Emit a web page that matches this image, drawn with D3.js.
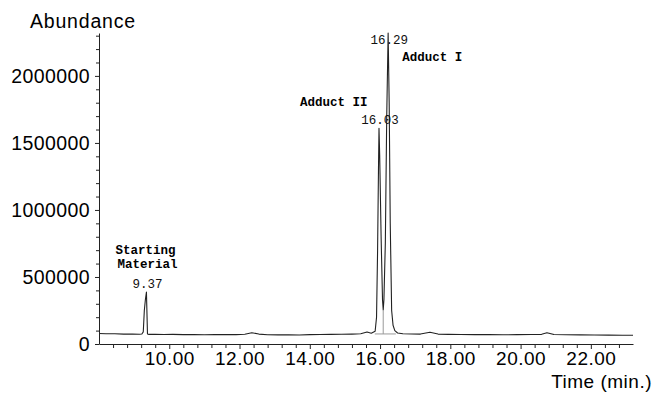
<!DOCTYPE html>
<html>
<head>
<meta charset="utf-8">
<script src="https://cdn.jsdelivr.net/npm/d3@7"></script>
<style>
  html, body { margin: 0; padding: 0; background: #fff; }
  svg { display: block; }
</style>
</head>
<body>
<svg id="chart" width="655" height="393"></svg>
<script>
// ---- data ----
const times = [8.00, 8.20, 8.45, 8.70, 8.95, 9.15, 9.22, 9.26, 9.29, 9.32, 9.35, 9.38, 9.42, 9.60, 9.85,
  10.10, 10.40, 10.70, 11.00, 11.30, 11.60, 11.90, 12.15, 12.35, 12.55, 12.80, 13.10, 13.40, 13.70,
  14.00, 14.30, 14.60, 14.90, 15.20, 15.45, 15.63, 15.75, 15.86, 15.90, 15.93, 15.955, 15.97, 15.99,
  16.03, 16.07, 16.09, 16.11, 16.15, 16.19, 16.23, 16.26, 16.29, 16.33, 16.37, 16.42, 16.50, 16.65,
  16.90, 17.15, 17.42, 17.65, 17.95, 18.30, 18.70, 19.10, 19.50, 19.90, 20.30, 20.60, 20.75, 20.95,
  21.30, 21.70, 22.10, 22.50, 22.90, 23.20];
const abundance = [78000, 76000, 77000, 74000, 75000, 73000, 75000, 90000, 250000, 330000, 388000, 75000, 72000, 73000, 71000,
  72000, 70000, 71000, 69000, 70000, 71000, 70000, 73000, 84000, 74000, 69000, 68000, 69000, 67000,
  70000, 71000, 72000, 73000, 74000, 76000, 90000, 80000, 95000, 200000, 700000, 1300000, 1610000, 1400000,
  800000, 330000, 255000, 330000, 750000, 1700000, 2320000, 1800000, 900000, 250000, 140000, 100000, 82000, 76000,
  75000, 74000, 88000, 74000, 72000, 71000, 70000, 70000, 69000, 70000, 71000, 72000, 84000, 71000,
  69000, 68000, 67000, 66000, 65000, 65000];

const xTickValues = [10, 12, 14, 16, 18, 20, 22];
const yTickValues = [0, 500000, 1000000, 1500000, 2000000];

const peakTimes = [9.35, 15.97, 16.23];
const peakValues = [388000, 1610000, 2320000];
const peakLabels = ["9.37", "16.03", "16.29"];
const compoundNames = [["Starting", "Material"], ["Adduct II"], ["Adduct I"]];

// integration marks (valley between adducts)
const valleyTime = 16.09, valleyValue = 255000, baseValue = 75000;
const integrationBase = [15.85, 16.45];

// ---- layout ----
const svg = d3.select("#chart");
const x = d3.scaleLinear().domain([8.0, 23.2]).range([99, 633]);
const y = d3.scaleLinear().domain([0, 2320000]).range([344, 33]);

const sans = "'Liberation Sans', Arial, Helvetica, sans-serif";
const mono = "'Liberation Mono', 'Courier New', monospace";

// x axis minor ticks
const xMinor = d3.range(8.4, 23.2, 0.4).filter(v => Math.abs((v / 2) - Math.round(v / 2)) > 0.01);
const gxMinor = svg.append("g").attr("transform", "translate(0,344)")
  .call(d3.axisBottom(x).tickValues(xMinor).tickSize(4).tickFormat(""));
gxMinor.select(".domain").remove();

const gx = svg.append("g").attr("transform", "translate(0,344)")
  .call(d3.axisBottom(x).tickValues(xTickValues).tickSize(5).tickSizeOuter(0).tickPadding(3)
    .tickFormat(d3.format(".2f")));
gx.selectAll("text").attr("font-family", sans).attr("font-size", "19px").attr("letter-spacing", "0.5px")
  .attr("fill", "#000").attr("dy", "0.71em");

// y axis minor ticks
const yMinor = d3.range(100000, 2320001, 100000).filter(v => v % 500000 !== 0);
const gyMinor = svg.append("g").attr("transform", "translate(99,0)")
  .call(d3.axisLeft(y).tickValues(yMinor).tickSize(3).tickFormat(""));
gyMinor.select(".domain").remove();

const gy = svg.append("g").attr("transform", "translate(99,0)")
  .call(d3.axisLeft(y).tickValues(yTickValues).tickSize(4).tickSizeOuter(0).tickPadding(5)
    .tickFormat(d3.format("d")));
gy.selectAll("text").attr("font-family", sans).attr("font-size", "19.5px").attr("letter-spacing", "0.4px")
  .attr("fill", "#000");

svg.selectAll(".domain, .tick line").attr("stroke", "#222");

// axis titles
svg.append("text").attr("x", 30).attr("y", 28).attr("font-family", sans).attr("font-size", "19.5px")
  .attr("letter-spacing", "0.8px").text("Abundance");
svg.append("text").attr("x", 652).attr("y", 388).attr("text-anchor", "end").attr("font-family", sans)
  .attr("font-size", "19px").attr("letter-spacing", "0.5px").text("Time (min.)");

// integration marks
svg.append("line").attr("x1", x(valleyTime)).attr("x2", x(valleyTime))
  .attr("y1", y(valleyValue)).attr("y2", y(baseValue)).attr("stroke", "#999").attr("stroke-width", 1);
svg.append("line").attr("x1", x(integrationBase[0])).attr("x2", x(integrationBase[1]))
  .attr("y1", y(baseValue)).attr("y2", y(baseValue)).attr("stroke", "#999").attr("stroke-width", 1);

// trace
const pts = times.map((t, i) => [t, abundance[i]]);
svg.append("path").datum(pts)
  .attr("fill", "none").attr("stroke", "#222").attr("stroke-width", 1.1).attr("stroke-linejoin", "round")
  .attr("d", d3.line().x(d => x(d[0])).y(d => y(d[1])));

// peak labels
peakTimes.forEach((t, i) => {
  const px = x(t), py = y(peakValues[i]);
  const lblY = i === 2 ? py + 11 : py - 4;
  svg.append("text").attr("x", px + 1).attr("y", lblY).attr("text-anchor", "middle")
    .attr("font-family", mono).attr("font-size", "12.5px").attr("fill", "#111").text(peakLabels[i]);
});

// compound names
const n0 = compoundNames[0];
svg.append("text").attr("x", x(peakTimes[0]) - 1).attr("y", y(peakValues[0]) - 38).attr("text-anchor", "middle")
  .attr("font-family", mono).attr("font-weight", "bold").attr("font-size", "12.5px").text(n0[0]);
svg.append("text").attr("x", x(peakTimes[0]) + 1).attr("y", y(peakValues[0]) - 24).attr("text-anchor", "middle")
  .attr("font-family", mono).attr("font-weight", "bold").attr("font-size", "12.5px").text(n0[1]);
svg.append("text").attr("x", x(peakTimes[1]) - 79).attr("y", y(peakValues[1]) - 22)
  .attr("font-family", mono).attr("font-weight", "bold").attr("font-size", "12.5px").text(compoundNames[1][0]);
svg.append("text").attr("x", x(peakTimes[2]) + 14).attr("y", y(peakValues[2]) + 28)
  .attr("font-family", mono).attr("font-weight", "bold").attr("font-size", "12.5px").text(compoundNames[2][0]);
</script>
</body>
</html>
